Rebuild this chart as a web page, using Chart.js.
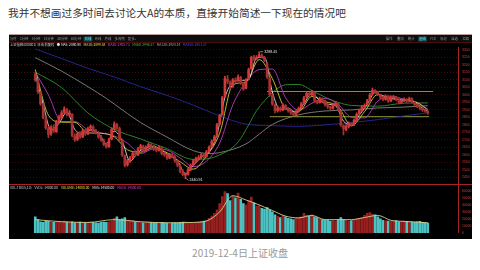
<!DOCTYPE html>
<html>
<head>
<meta charset="utf-8">
<script src="https://cdn.jsdelivr.net/npm/chart.js@4.4.1/dist/chart.umd.min.js"></script>
<style>
  html, body { margin: 0; padding: 0; background: #fff; width: 480px; height: 270px; overflow: hidden; }
  #title { position: absolute; left: 8px; top: 5px; font: 10.7px "Noto Sans CJK SC", sans-serif; color: #333; white-space: nowrap; }
  #panel { position: absolute; left: 9px; top: 34px; width: 463px; height: 205px; background: #000; }
  #caption { position: absolute; left: 0; top: 245px; width: 480px; text-align: center; font: 10px "Noto Sans CJK SC", sans-serif; color: #999; }
</style>
</head>
<body>
<div id="title">我并不想画过多时间去讨论大A的本质，直接开始简述一下现在的情况吧</div>
<div id="panel"><canvas id="kline" width="463" height="205"></canvas></div>
<div id="caption">2019-12-4日上证收盘</div>
<script>
// 上证指数 daily bars (open / high / low / close) and volume
const opens = [
  3140,3095,3015,2935,2845,2775,2740,2785,2755,2825,
  2850,2885,2900,2865,2870,2725,2705,2745,2720,2765,
  2740,2780,2785,2760,2745,2720,2695,2670,2655,2705,
  2770,2800,2775,2695,2595,2535,2560,2585,2605,2600,
  2645,2655,2630,2655,2665,2660,2640,2630,2645,2610,
  2600,2580,2600,2585,2560,2525,2490,2465,2470,2500,
  2535,2560,2575,2585,2600,2590,2625,2655,2695,2725,
  2805,2870,2990,3105,3085,3060,3100,3095,3115,3075,
  3045,3105,3175,3255,3240,3255,3265,3250,3210,3115,
  2995,2935,2895,2910,2900,2930,2910,2895,2880,2870,
  2890,2915,2945,2990,3010,3000,3015,2960,2950,2975,
  2960,2935,2920,2910,2930,2940,2890,2795,2770,2790,
  2810,2800,2830,2875,2895,2920,2935,2965,3005,3030,
  3020,3000,2985,2970,2990,2960,2980,2985,2970,2950,
  2960,2970,2960,2975,2950,2935,2920,2910,2900,2890
];
const highs = [
  3152,3100,3025,2945,2850,2790,2795,2800,2830,2865,
  2895,2920,2910,2895,2875,2740,2750,2755,2770,2770,
  2785,2800,2795,2770,2755,2730,2705,2680,2710,2780,
  2820,2810,2785,2705,2600,2570,2590,2620,2615,2650,
  2670,2665,2660,2680,2675,2665,2650,2660,2655,2620,
  2605,2610,2610,2595,2565,2535,2500,2480,2510,2540,
  2570,2585,2595,2610,2605,2630,2660,2700,2730,2810,
  2870,2990,3125,3130,3095,3110,3115,3135,3125,3085,
  3110,3180,3260,3265,3262,3288.45,3275,3258,3220,3120,
  3005,2940,2925,2920,2940,2935,2915,2900,2885,2900,
  2920,2950,2990,3020,3015,3030,3020,2965,2985,2980,
  2965,2940,2925,2940,2955,2945,2895,2800,2800,2820,
  2815,2840,2880,2905,2930,2940,2970,3010,3045,3035,
  3025,3005,2990,3000,2995,2990,2995,2990,2975,2970,
  2980,2975,2985,2980,2955,2940,2925,2915,2905,2895
];
const lows = [
  3090,3010,2930,2840,2770,2715,2730,2750,2750,2815,
  2840,2875,2860,2855,2720,2690,2695,2710,2715,2730,
  2735,2765,2750,2740,2710,2690,2660,2645,2650,2700,
  2765,2770,2690,2590,2520,2525,2550,2575,2590,2595,
  2635,2620,2625,2645,2650,2630,2620,2625,2600,2590,
  2570,2575,2580,2550,2520,2480,2460,2440.91,2465,2495,
  2525,2550,2565,2575,2580,2585,2615,2650,2685,2720,
  2800,2865,2985,3075,3040,3050,3080,3090,3070,3030,
  3040,3100,3170,3230,3235,3250,3245,3220,3110,2990,
  2930,2880,2885,2890,2895,2900,2885,2870,2860,2865,
  2885,2905,2940,2980,2990,2995,2950,2940,2945,2950,
  2925,2910,2900,2905,2925,2895,2790,2733,2760,2780,
  2790,2795,2825,2865,2890,2910,2930,2960,3000,3010,
  2995,2975,2960,2965,2950,2955,2975,2960,2940,2945,
  2955,2950,2955,2945,2925,2915,2900,2890,2885,2872
];
const closes = [
  3100,3020,2940,2850,2780,2735,2780,2760,2820,2850,
  2880,2905,2870,2880,2730,2700,2740,2720,2760,2740,
  2775,2790,2760,2750,2720,2700,2670,2655,2700,2770,
  2805,2780,2700,2600,2530,2560,2580,2610,2600,2640,
  2660,2630,2650,2670,2660,2640,2630,2650,2610,2600,
  2580,2600,2590,2560,2530,2490,2470,2465,2500,2530,
  2560,2575,2580,2600,2590,2620,2650,2690,2720,2800,
  2860,2980,3110,3090,3060,3100,3090,3120,3080,3040,
  3100,3170,3250,3240,3250,3270,3255,3230,3120,3000,
  2940,2895,2910,2900,2930,2910,2895,2880,2870,2890,
  2910,2940,2980,3010,3000,3020,2960,2950,2975,2960,
  2935,2920,2910,2930,2945,2900,2800,2775,2790,2810,
  2800,2830,2870,2895,2920,2930,2960,3000,3030,3020,
  3005,2985,2970,2990,2960,2980,2985,2970,2950,2960,
  2970,2960,2975,2950,2935,2920,2910,2900,2890,2878
];
const volumes = [
  23000,19000,16000,15000,16500,17000,15500,15000,16000,16500,
  16000,17000,15500,15000,16000,14500,15000,15500,15000,14500,
  15000,15500,15000,14500,14000,15000,15500,15000,16000,17000,
  21000,23000,19000,20000,22000,18000,17000,17500,16000,15500,
  15000,14500,15000,15500,15000,14500,14000,14500,15000,14500,
  14000,13500,14000,14500,14000,15000,15500,16000,15000,14500,
  15000,15500,16000,16500,17000,18000,21000,24000,28000,33000,
  42000,52000,59000,56000,46000,53000,50000,57000,48000,42000,
  40000,46000,51000,43000,38000,39000,35000,34000,36000,33000,
  30000,26000,24000,22000,25000,23000,21000,20000,19000,21000,
  22000,23000,28000,25000,24000,26000,23000,22000,20000,19000,
  18000,18500,17000,17500,17000,19000,22000,19000,18000,17000,
  17500,19000,20000,21000,22000,25000,28000,29000,27000,26000,
  23000,20000,18000,17500,17000,16500,17000,17500,16000,16500,
  17000,16500,16000,15500,15000,16000,16500,15000,14500,14000
];

// moving averages, sampled as [bar, value]
const ma5 = [[0,3140],[3,2937],[6,2765],[9,2810],[12,2885],[15,2770],[18,2740],[21,2768],[24,2743],[27,2675],
  [30,2758],[33,2693],[36,2557],[39,2617],[42,2647],[45,2657],[48,2630],[51,2593],[54,2560],[57,2475],
  [60,2530],[63,2585],[66,2620],[69,2737],[72,2983],[75,3083],[78,3097],[81,3103],[84,3247],[87,3252],
  [90,3020],[93,2902],[96,2912],[99,2880],[102,2943],[105,3010],[108,2962],[111,2938],[114,2928],[117,2825],
  [120,2800],[123,2865],[126,2937],[129,3017],[132,2987],[135,2977],[138,2968],[141,2963],[144,2953],[147,2910],
  [149,2890.98]];
const ma10 = [[0,3170],[5,2865],[10,2818],[15,2817],[20,2747],[25,2744],[30,2720],[35,2634],[40,2618],[45,2650],
  [50,2614],[55,2554],[60,2505],[65,2593],[70,2744],[75,3068],[80,3086],[85,3236],[90,3109],[95,2909],
  [100,2889],[105,2990],[110,2956],[115,2921],[120,2795],[125,2889],[130,3003],[135,2977],[140,2967],[145,2948],
  [149,2899.58]];
const ma20 = [[0,3152],[5,3000],[10,2822],[15,2822],[20,2768],[25,2746],[30,2726],[35,2678],[40,2609],[45,2640],
  [50,2632],[55,2579],[60,2522],[65,2558],[70,2679],[75,2934],[80,3088],[85,3169],[90,3173],[95,2982],
  [100,2899],[105,2944],[110,2977],[115,2936],[120,2851],[125,2847],[130,2959],[135,2993],[140,2971],[145,2950],
  [149,2905.73]];
const ma60 = [[0,3152],[10,3049],[20,2880],[30,2770],[40,2706],[50,2641],[60,2570],[66,2576],[70,2600],[75,2650],
  [78,2710],[81,2800],[84,2895],[87,2960],[91,3030],[95,3068],[100,3070],[105,3030],[110,2985],[115,2950],
  [120,2930],[130,2925],[140,2945],[149,2946.57]];
const ma120 = [[0,3249],[10,3159],[20,3055],[27,2977],[30,2939],[40,2816],[50,2719],[60,2628],[66,2609],[70,2615],
  [80,2673],[85,2738],[90,2803],[100,2867],[110,2893],[120,2900],[130,2913],[140,2919],[149,2928.14]];
const ma250 = [[0,3307],[10,3243],[20,3178],[30,3120],[40,3055],[50,2997],[60,2932],[70,2860],[80,2805],[90,2795],
  [100,2790],[110,2800],[120,2815],[130,2835],[140,2860],[149,2881.37]];
const volMa5 = [[0,19000],[10,16000],[20,15000],[30,19000],[40,16000],[50,14500],[60,15000],[65,17000],[70,30000],[75,53000],
  [80,47000],[85,40000],[90,32000],[95,24000],[100,21500],[105,25000],[110,19000],[115,19000],[120,19000],[125,22000],
  [130,25000],[135,18000],[140,16500],[145,15500],[149,14500]];

// box drawn around the sideways range since May
const boxTop = [[88,3023],[151,3023]];
const boxBottom = [[89,2855],[149.5,2855]];

const priceTicks = [3300,3250,3200,3150,3100,3050,3000,2950,2900,2850,2800,2750,2700,2650,2600,2550,2500,2450];
const volumeTicks = [60000,50000,40000,30000,20000,10000,0];

const RED = '#d23a3a', RED_DARK = '#a83232', CYAN = '#4cc2c2', VOL_RED = '#981f1f';
const bars = closes.map((_, i) => i);
const rising = bars.map(i => closes[i] >= opens[i]);
const asPoints = arr => arr.map(([x, y]) => ({x, y}));
const last = arr => arr[arr.length - 1][1];

const lineDs = (label, pts, color, order, axis) => ({
  type: 'line', label, data: asPoints(pts), yAxisID: axis || 'y',
  borderColor: color, borderWidth: 0.9, pointRadius: 0, cubicInterpolationMode: 'monotone', order
});

function textRun(ctx, x, y, parts, gap) {
  for (const [t, c] of parts) {
    ctx.fillStyle = c;
    ctx.fillText(t, x, y);
    x += ctx.measureText(t).width + gap;
  }
  return x;
}

const decor = {
  id: 'decor',
  beforeDraw(chart) {
    const {ctx, width} = chart;
    ctx.save();
    ctx.fillStyle = '#000'; ctx.fillRect(0, 0, width, chart.height);
    ctx.fillStyle = '#0e0e0e'; ctx.fillRect(0, 1, width, 7);
    ctx.fillStyle = '#b99c9c'; ctx.fillRect(0, 0, width, 1);
    ctx.fillStyle = '#4a0c0c'; ctx.fillRect(0, 8, width, 1);
    ctx.restore();
  },
  afterDraw(chart) {
    const {ctx, chartArea} = chart;
    const xs = chart.scales.x, ys = chart.scales.y, yv = chart.scales.yv;
    ctx.save();
    // pane separator
    ctx.fillStyle = '#a82424';
    ctx.fillRect(chartArea.left, Math.round(yv.top) - 1, chartArea.right - chartArea.left + 14, 1);

    ctx.textBaseline = 'middle';
    ctx.font = '3.3px "Noto Sans CJK SC"';
    // period toolbar
    const periods = ['分时','1分钟','5分钟','15分钟','30分钟','60分钟','日线','周线','月线','多周期','更多»'];
    let x = 1;
    for (const p of periods) {
      const w = ctx.measureText(p).width;
      if (p === '日线') { ctx.fillStyle = '#124a52'; ctx.fillRect(x - 1, 2.5, w + 2, 5); ctx.fillStyle = '#6fe0ec'; }
      else ctx.fillStyle = '#9a9a9a';
      ctx.fillText(p, x, 5);
      x += w + 3.4;
    }
    const tools = ['操作','叠加','统计','画线','F10','标记','自选','返回'];
    let tw = tools.reduce((s, t) => s + ctx.measureText(t).width, 0) + 4.5 * (tools.length - 1);
    x = 460 - tw;
    for (const t of tools) {
      const w = ctx.measureText(t).width;
      if (t === '画线') { ctx.fillStyle = '#124a52'; ctx.fillRect(x - 1, 2.5, w + 2, 5); ctx.fillStyle = '#6fe0ec'; }
      else ctx.fillStyle = '#9a9a9a';
      ctx.fillText(t, x, 5);
      x += w + 4.5;
    }
    // moving-average legend
    textRun(ctx, 1, 11, [
      ['上证指数(000001) 日线 前复权', '#cfcfcf'],
      ['● MA5: ' + last(ma5).toFixed(2), '#e6e6e6'],
      ['MA10: ' + last(ma10).toFixed(2), '#e0e040'],
      ['MA20: ' + last(ma20).toFixed(2), '#e040e0'],
      ['MA60: ' + last(ma60).toFixed(2), '#38c038'],
      ['MA120: ' + last(ma120).toFixed(2), '#a8a8a8'],
      ['MA250: ' + last(ma250).toFixed(2), '#4a4aff']
    ], 2.5);
    // volume legend
    const lv = volumes[volumes.length - 1];
    textRun(ctx, 1, Math.round(yv.top) + 2.5, [
      ['VOL-TDX(5,10)', '#cfcfcf'],
      ['VVOL: ' + lv.toFixed(2), '#cfcfcf'],
      ['VOLUME: ' + lv.toFixed(2), '#e0e040'],
      ['MA5: ' + last(volMa5).toFixed(2), '#e6e6e6'],
      ['MA10: ' + last(volMa5).toFixed(2), '#e040e0']
    ], 3);

    // extreme price marks
    ctx.font = '3.6px "Liberation Sans"';
    ctx.fillStyle = '#e8e8e8'; ctx.strokeStyle = '#e8e8e8'; ctx.lineWidth = 0.6;
    let hi = 0, lo = 0;
    bars.forEach(i => { if (highs[i] > highs[hi]) hi = i; if (lows[i] < lows[lo]) lo = i; });
    const hx = xs.getPixelForValue(hi), hy = ys.getPixelForValue(highs[hi]);
    ctx.beginPath(); ctx.moveTo(hx + 1, hy); ctx.lineTo(hx + 4, hy); ctx.stroke();
    ctx.fillText(highs[hi].toFixed(2), hx + 5, hy);
    const lx = xs.getPixelForValue(lo), ly = ys.getPixelForValue(lows[lo]);
    ctx.beginPath(); ctx.moveTo(lx + 1, ly); ctx.lineTo(lx + 3, ly + 1.5); ctx.stroke();
    ctx.fillText(lows[lo].toFixed(2), lx + 4, ly + 1.5);
    ctx.restore();
  }
};

const axisCommon = {
  type: 'linear', position: 'right', stack: 'panes',
  afterFit(scale) { scale.width = 14; },
  border: { display: true, color: '#a82424', width: 1, dash: [1, 2] },
  ticks: { color: '#cc4040', font: { size: 3.4, family: 'Liberation Sans' }, padding: 4, autoSkip: false,
           callback: v => String(v) }
};

new Chart(document.getElementById('kline'), {
  type: 'bar',
  data: {
    datasets: [
      { type: 'bar', label: '实体', data: bars.map(i => ({x: i, y: [opens[i], closes[i]]})), yAxisID: 'y',
        backgroundColor: rising.map(r => r ? RED : RED_DARK), barThickness: 2, minBarLength: 1, grouped: false, order: 1 },
      { type: 'bar', label: '影线', data: bars.map(i => ({x: i, y: [lows[i], highs[i]]})), yAxisID: 'y',
        backgroundColor: rising.map(r => r ? RED : RED_DARK), barThickness: 1, grouped: false, order: 2 },
      lineDs('MA5', ma5, '#dcdcdc', 3),
      lineDs('MA10', ma10, '#cccc3c', 4),
      lineDs('MA20', ma20, '#b83cc4', 5),
      lineDs('MA60', ma60, '#2c922c', 6),
      lineDs('MA120', ma120, '#858585', 7),
      lineDs('MA250', ma250, '#28289a', 8),
      { ...lineDs('箱体上沿', boxTop, '#a0a03a', 9), cubicInterpolationMode: 'default', tension: 0 },
      { ...lineDs('箱体下沿', boxBottom, '#a0a03a', 9), cubicInterpolationMode: 'default', tension: 0 },
      lineDs('VOL MA5', volMa5, '#d0d08a', 10, 'yv'),
      { type: 'bar', label: 'VOL', data: bars.map(i => ({x: i, y: volumes[i]})), yAxisID: 'yv',
        backgroundColor: rising.map(r => r ? VOL_RED : CYAN), barThickness: 2, grouped: false, order: 11 }
    ]
  },
  options: {
    responsive: false, animation: false, devicePixelRatio: 1, events: [],
    layout: { padding: { top: 13, bottom: 1, left: 0, right: 0 } },
    plugins: { legend: { display: false }, tooltip: { enabled: false } },
    scales: {
      x: { type: 'linear', min: -0.5, max: 151, display: false },
      y: { ...axisCommon, stackWeight: 142, min: 2402, max: 3320,
           afterBuildTicks(scale) { scale.ticks = priceTicks.map(v => ({value: v})); },
           grid: { color: 'rgba(140,26,26,0.45)', drawTicks: false, tickLength: 0, lineWidth: 1 } },
      yv: { ...axisCommon, stackWeight: 50, min: 0, max: 69000,
            afterBuildTicks(scale) { scale.ticks = volumeTicks.map(v => ({value: v})); },
            grid: { display: false, drawTicks: false, tickLength: 0 } }
    }
  },
  plugins: [decor]
});
</script>
</body>
</html>
